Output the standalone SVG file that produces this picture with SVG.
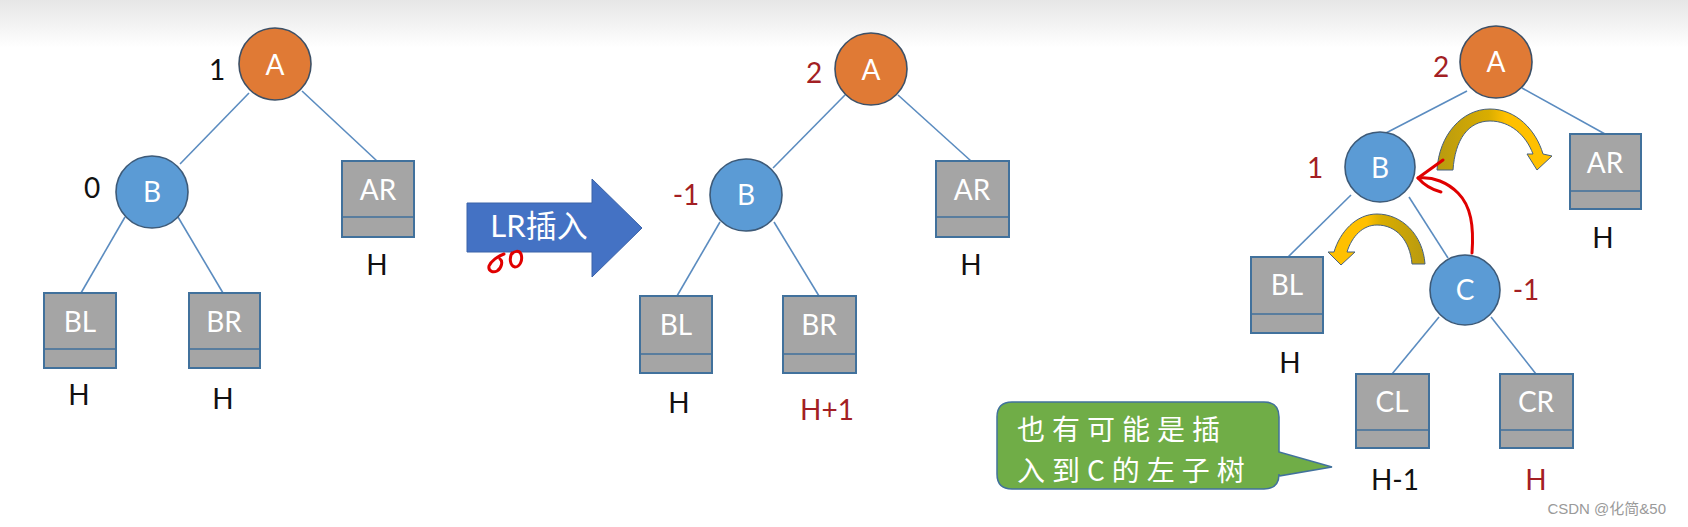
<svg xmlns="http://www.w3.org/2000/svg" width="1688" height="527" viewBox="0 0 1688 527">
<defs>
<linearGradient id="topband" x1="0" y1="0" x2="0" y2="1">
<stop offset="0" stop-color="#e6e6e6"/>
<stop offset="1" stop-color="#ffffff"/>
</linearGradient>
<linearGradient id="goldR" x1="0" y1="0" x2="1" y2="0">
<stop offset="0" stop-color="#b89a10"/>
<stop offset="0.45" stop-color="#d9ad00"/>
<stop offset="0.6" stop-color="#ffc000"/>
<stop offset="1" stop-color="#ffc000"/>
</linearGradient>
<linearGradient id="goldL" x1="1" y1="0" x2="0" y2="0">
<stop offset="0" stop-color="#b89a10"/>
<stop offset="0.45" stop-color="#d9ad00"/>
<stop offset="0.6" stop-color="#ffc000"/>
<stop offset="1" stop-color="#ffc000"/>
</linearGradient>
<style>
.edge{stroke:#5b8cc0;stroke-width:1.6;fill:none}
.orange{fill:#e07a35;stroke:#3d5066;stroke-width:1.6}
.blue{fill:#5b9bd5;stroke:#3d5a78;stroke-width:1.6}
.box{fill:#a5a5a5;stroke:#41719c;stroke-width:2}
.div{stroke:#41719c;stroke-width:1.5}
.nl{font-family:Lato,"Liberation Sans",sans-serif;font-size:28px;fill:#ffffff;text-anchor:middle}
.lab{font-family:Lato,"Liberation Sans",sans-serif;font-size:28px;fill:#111111;text-anchor:middle}
.red{fill:#a31f24}
.curl{stroke:#47617e;stroke-width:1}
.ink{stroke:#e00000;stroke-width:3;fill:none;stroke-linecap:round;stroke-linejoin:round}
.cjk{font-family:"Noto Sans CJK SC",sans-serif;font-size:28px;fill:#ffffff;letter-spacing:7px}
</style>
</defs>
<rect x="0" y="0" width="1688" height="527" fill="#ffffff"/>
<rect x="0" y="0" width="1688" height="48" fill="url(#topband)"/>

<g id="connectors">
<line class="edge" x1="249" y1="93" x2="180" y2="164"/>
<line class="edge" x1="302" y1="91" x2="377" y2="161"/>
<line class="edge" x1="125" y1="217" x2="81" y2="293"/>
<line class="edge" x1="178" y1="217" x2="223" y2="293"/>
<line class="edge" x1="845" y1="95" x2="773" y2="168"/>
<line class="edge" x1="898" y1="95" x2="971" y2="161"/>
<line class="edge" x1="720" y1="222" x2="677" y2="296"/>
<line class="edge" x1="774" y1="222" x2="819" y2="296"/>
<line class="edge" x1="1467" y1="91" x2="1384" y2="134"/>
<line class="edge" x1="1522" y1="88" x2="1605" y2="134"/>
<line class="edge" x1="1351" y1="195" x2="1288" y2="257"/>
<line class="edge" x1="1409" y1="197" x2="1448" y2="258"/>
<line class="edge" x1="1439" y1="317" x2="1392" y2="374"/>
<line class="edge" x1="1491" y1="317" x2="1536" y2="374"/>
</g>

<!-- Panel 1 -->
<g id="p1-A"><circle class="orange" cx="275" cy="64" r="36"/><text class="nl" x="275" y="75">A</text><text class="lab" x="217" y="80">1</text></g>
<g id="p1-B"><circle class="blue" cx="152" cy="192" r="36"/><text class="nl" x="152" y="202">B</text><text class="lab" x="92" y="198">0</text></g>
<g id="p1-AR"><rect class="box" x="342" y="161" width="72" height="76"/><line class="div" x1="342" y1="217" x2="414" y2="217"/><text class="nl" x="378" y="200">AR</text><text class="lab" x="377" y="275">H</text></g>
<g id="p1-BL"><rect class="box" x="44" y="293" width="72" height="75"/><line class="div" x1="44" y1="349" x2="116" y2="349"/><text class="nl" x="80" y="332">BL</text><text class="lab" x="79" y="405">H</text></g>
<g id="p1-BR"><rect class="box" x="189" y="293" width="71" height="75"/><line class="div" x1="189" y1="349" x2="260" y2="349"/><text class="nl" x="224" y="332">BR</text><text class="lab" x="223" y="409">H</text></g>

<!-- Big arrow -->
<g id="lr-arrow">
<path d="M467 203 L592 203 L592 179 L642 228 L592 277 L592 252 L467 252 Z" fill="#4472c4" stroke="#3a62a8" stroke-width="1"/>
<text x="539" y="237" font-family="Lato,'Noto Sans CJK SC',sans-serif" font-size="31" fill="#ffffff" text-anchor="middle">LR插入</text>
<path class="ink" d="M504 254 C498 256 491 261 489 266 C488 271 493 273 497 271 C502 268 503 261 500 259"/>
<path class="ink" d="M512 253 C509 258 510 266 515 267 C520 267 523 260 521 254 C519 250 514 251 512 254"/>
</g>

<!-- Panel 2 -->
<g id="p2-A"><circle class="orange" cx="871" cy="69" r="36"/><text class="nl" x="871" y="80">A</text><text class="lab red" x="814" y="83">2</text></g>
<g id="p2-B"><circle class="blue" cx="746" cy="195" r="36"/><text class="nl" x="746" y="205">B</text><text class="lab red" x="686" y="205">-1</text></g>
<g id="p2-AR"><rect class="box" x="936" y="161" width="73" height="76"/><line class="div" x1="936" y1="217" x2="1009" y2="217"/><text class="nl" x="972" y="200">AR</text><text class="lab" x="971" y="275">H</text></g>
<g id="p2-BL"><rect class="box" x="640" y="296" width="72" height="77"/><line class="div" x1="640" y1="354" x2="712" y2="354"/><text class="nl" x="676" y="335">BL</text><text class="lab" x="679" y="413">H</text></g>
<g id="p2-BR"><rect class="box" x="783" y="296" width="73" height="77"/><line class="div" x1="783" y1="354" x2="856" y2="354"/><text class="nl" x="819" y="335">BR</text><text class="lab red" x="827" y="420">H+1</text></g>

<!-- Panel 3 -->
<g id="p3-A"><circle class="orange" cx="1496" cy="62" r="36"/><text class="nl" x="1496" y="72">A</text><text class="lab red" x="1441" y="77">2</text></g>
<g id="p3-B"><circle class="blue" cx="1380" cy="167" r="35"/><text class="nl" x="1380" y="178">B</text><text class="lab red" x="1315" y="178">1</text></g>
<g id="p3-C"><circle class="blue" cx="1465" cy="290" r="35"/><text class="nl" x="1465" y="300">C</text><text class="lab red" x="1526" y="300">-1</text></g>
<g id="p3-AR"><rect class="box" x="1570" y="134" width="71" height="75"/><line class="div" x1="1570" y1="191" x2="1641" y2="191"/><text class="nl" x="1605" y="173">AR</text><text class="lab" x="1603" y="248">H</text></g>
<g id="p3-BL"><rect class="box" x="1251" y="257" width="72" height="76"/><line class="div" x1="1251" y1="314" x2="1323" y2="314"/><text class="nl" x="1287" y="295">BL</text><text class="lab" x="1290" y="373">H</text></g>
<g id="p3-CL"><rect class="box" x="1356" y="374" width="73" height="74"/><line class="div" x1="1356" y1="430" x2="1429" y2="430"/><text class="nl" x="1392" y="412">CL</text><text class="lab" x="1395" y="490">H-1</text></g>
<g id="p3-CR"><rect class="box" x="1500" y="374" width="73" height="74"/><line class="div" x1="1500" y1="430" x2="1573" y2="430"/><text class="nl" x="1536" y="412">CR</text><text class="lab red" x="1536" y="490">H</text></g>

<!-- rotation arrows -->
<g id="rot-big">
<path class="curl" fill="url(#goldR)" d="M1437 170 C1439 135 1462 109 1490 109 C1516 109 1536 130 1543 154 L1552 156 L1537 170 L1527 154 L1533 154 C1526 135 1510 121 1490 121 C1468 121 1455 140 1453 170 Z"/>
</g>
<g id="rot-small">
<path class="curl" fill="url(#goldL)" d="M1425 264 C1423 235 1402 214 1377 214 C1356 214 1340 232 1334 252 L1328 252 L1341 265 L1355 252 L1347 252 C1352 236 1363 225 1377 225 C1396 225 1410 240 1412 264 Z"/>
</g>
<g id="red-mark">
<path class="ink" d="M1472 253 C1474 226 1471 206 1458 193 C1448 183 1433 176 1418 178"/>
<path class="ink" d="M1443 160 L1418 178 C1425 186 1433 190 1441 192"/>
</g>

<!-- callout -->
<g id="callout">
<path d="M1012 402 L1264 402 Q1279 402 1279 417 L1279 452 L1332 467 L1279 476 L1279 474 Q1279 489 1264 489 L1012 489 Q997 489 997 474 L997 417 Q997 402 1012 402 Z" fill="#70ad47" stroke="#41719c" stroke-width="1.5"/>
<text class="cjk" x="1017" y="440">也有可能是插</text>
<text class="cjk" x="1017" y="481">入到C的左子树</text>
</g>

<text x="1666" y="514" font-family="'Liberation Sans','Noto Sans CJK SC',sans-serif" font-size="15" fill="#9a9a9a" text-anchor="end">CSDN @化简&amp;50</text>
</svg>
